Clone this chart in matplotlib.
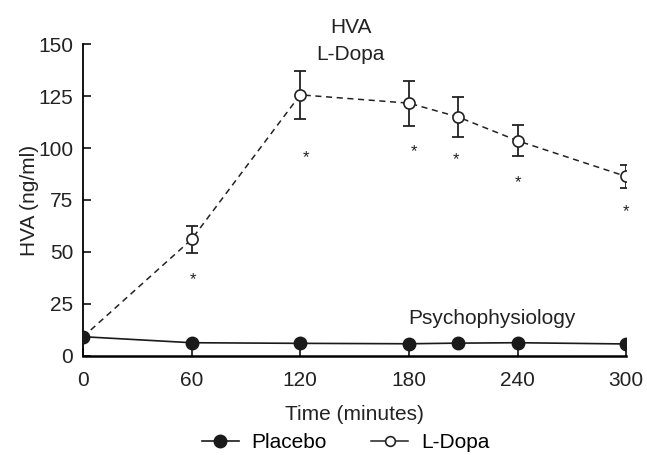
import numpy as np
import matplotlib
matplotlib.use("Agg")
import matplotlib.pyplot as plt

plt.rcParams['font.family'] = ['Liberation Sans', 'DejaVu Sans']

# time points (minutes)
time = [0, 60, 120, 180, 207, 240, 300]

# L-Dopa HVA mean and error
ldopa = [9, 56, 125.6, 121.6, 115, 103.5, 86.3]
ldopa_err = [0, 6.5, 11.5, 10.8, 9.5, 7.5, 5.5]

# Placebo HVA
placebo = [9.2, 6.3, 6.0, 5.8, 6.1, 6.3, 5.7]

# significance stars
star_x = [61, 123, 183, 206, 240, 300]
star_y = [36.8, 95.6, 98.3, 94.3, 83.4, 69.4]

fig = plt.figure(figsize=(6.47, 4.55), dpi=100)
ax = fig.add_axes([0.128, 0.218, 0.840, 0.685])

fs = 15

ax.errorbar(time[1:], ldopa[1:], yerr=ldopa_err[1:], fmt='none', ecolor='#222222',
            elinewidth=1.3, capsize=4, capthick=1.3, zorder=2)
ax.plot(time, ldopa, linestyle=(0, (4, 3)), color='#222222', linewidth=1.1, zorder=1)
ax.plot(time[1:], ldopa[1:], 'o', markersize=8, markerfacecolor='white',
        markeredgecolor='#222222', markeredgewidth=1.2, zorder=3)
ax.plot(time, placebo, '-o', color='#1a1a1a', linewidth=1.2, markersize=9, zorder=4)

for sx, sy in zip(star_x, star_y):
    ax.text(sx, sy, '*', ha='center', va='center', fontsize=12, color='#222222')

ax.text(148, 151.5, 'HVA\nL-Dopa', ha='center', va='center', fontsize=fs,
        color='#222222', linespacing=1.55, clip_on=False)
ax.text(226, 18, 'Psychophysiology', ha='center', va='center', fontsize=fs,
        color='#222222')

ax.set_xlim(0, 300)
ax.set_ylim(0, 150)
ax.set_xticks([0, 60, 120, 180, 240, 300])
ax.set_yticks([0, 25, 50, 75, 100, 125, 150])
ax.tick_params(direction='in', length=6, width=1.3, labelsize=fs, colors='#222222')
ax.tick_params(axis='x', pad=11)
ax.tick_params(axis='y', pad=7)
ax.spines['top'].set_visible(False)
ax.spines['right'].set_visible(False)
ax.spines['left'].set_linewidth(1.3)
ax.spines['bottom'].set_linewidth(1.8)
ax.set_xlabel('Time (minutes)', fontsize=fs, color='#222222', labelpad=11)
ax.set_ylabel('HVA (ng/ml)', fontsize=fs, color='#222222', labelpad=-1)

h1, = ax.plot([], [], '-o', color='#1a1a1a', linewidth=1.2, markersize=9)
h2, = ax.plot([], [], '-o', color='#222222', linewidth=1.1, markersize=7,
              markerfacecolor='white', markeredgewidth=1.2)
fig.legend([h1, h2], ['Placebo', 'L-Dopa'], loc='center', bbox_to_anchor=(0.534, 0.027),
           ncol=2, frameon=False, fontsize=fs, handlelength=1.8, columnspacing=2.1,
           handletextpad=0.6)

fig.savefig('out.png', dpi=100)
